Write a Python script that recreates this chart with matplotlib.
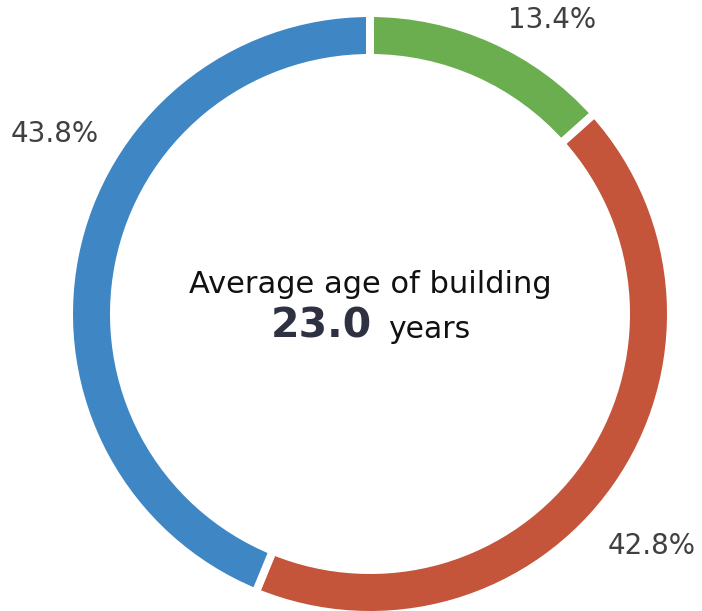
import matplotlib.pyplot as plt

# share of buildings per age band
shares = [13.4, 42.8, 43.8]
colors = ['#6aae4f', '#c4553b', '#3e87c4']
pct_labels = ['13.4%', '42.8%', '43.8%']
avg_age = 23.0

W, H = 702, 611
fig = plt.figure(figsize=(W / 100, H / 100), dpi=100)
ax = fig.add_axes([0, 0, 1, 1])

cx, cy = 370, H - 314
gap = 8  # white gap between wedges, in px
r_out = 297 + gap / 2
ring = 37 + gap

ax.pie(shares, colors=colors, startangle=90, counterclock=False,
       center=(cx, cy), radius=r_out, frame=True,
       wedgeprops=dict(width=ring, edgecolor='white', linewidth=gap * 0.72))
ax.set_xlim(0, W)
ax.set_ylim(0, H)
ax.set_aspect('auto')
ax.axis('off')

# percent labels around the ring
label_pos = [(552, 20), (652, 546), (55, 134)]
for txt, (x, y) in zip(pct_labels, label_pos):
    ax.text(x, H - y, txt, ha='center', va='center', fontsize=20,
            color='#404040')

ax.text(cx, H - 293, 'Average age of building', ha='center', va='baseline',
        fontsize=22, color='#111111')
ax.text(372, H - 338, f'{avg_age:.1f}', ha='right', va='baseline',
        fontsize=29.5, fontweight='bold', color='#2e3142')
ax.text(388, H - 338, 'years', ha='left', va='baseline', fontsize=21.5,
        color='#111111')

fig.savefig('out.png', dpi=100)
